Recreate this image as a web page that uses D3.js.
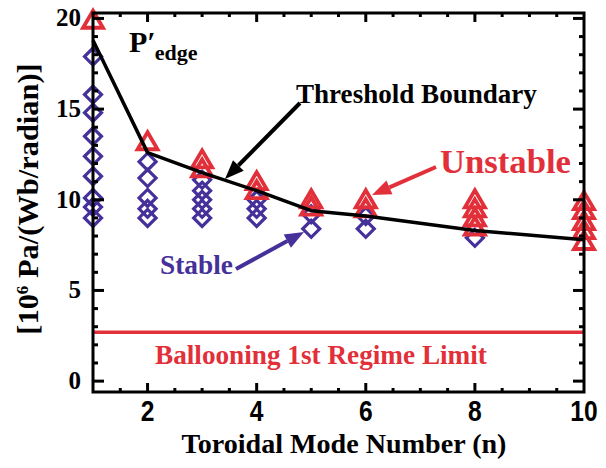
<!DOCTYPE html>
<html>
<head>
<meta charset="utf-8">
<script src="https://cdn.jsdelivr.net/npm/d3@7"></script>
<style>
  body { margin: 0; background: #fff; }
  svg { display: block; }
</style>
</head>
<body>
<svg id="chart" width="606" height="468"></svg>
<script>
// values
const stableN = [1, 1, 1, 1, 1, 1, 1, 1, 1, 2, 2, 2, 2, 2, 3, 3, 3, 3, 3, 4, 4, 4, 5, 5, 6, 6, 8];
const stableP = [17.9, 15.8, 14.8, 13.5, 12.4, 11.3, 10.1, 9.6, 9.0,
  12.1, 11.2, 10.1, 9.5, 9.0,
  11.1, 10.5, 10.0, 9.5, 9.0,
  10.0, 9.5, 9.0,
  9.2, 8.4,
  9.1, 8.4,
  7.9];
const unstableN = [1, 2, 3, 3, 4, 4, 5, 5, 6, 6, 8, 8, 8, 8, 10, 10, 10, 10, 10];
const unstableP = [19.9, 13.2, 12.2, 11.7, 11.0, 10.5, 10.0, 9.6, 10.0, 9.5,
  10.0, 9.5, 9.0, 8.5, 9.9, 9.4, 8.8, 8.3, 7.7];
const boundaryN = [1, 2, 3, 4, 5, 6, 8, 10];
const boundaryP = [18.8, 12.6, 11.5, 10.5, 9.4, 9.1, 8.3, 7.8];
const ballooningLimit = 2.7;
const xTicks = [2, 4, 6, 8, 10];
const yTicks = [0, 5, 10, 15, 20];

const red = "#e2303a";
const purple = "#46309a";
const serif = "'Liberation Serif', 'Times New Roman', serif";

const svg = d3.select("#chart");
const pLeft = 93, pRight = 584, pTop = 13, pBottom = 392;

const x = d3.scaleLinear().domain([1, 10]).range([pLeft, pRight]);
const y = d3.scaleLinear().domain([-0.6, 20.3]).range([pBottom, pTop]);

// shrink or grow a text so it spans a given width
function fit(sel, w) {
  const node = sel.node();
  const fs = parseFloat(sel.attr("font-size"));
  const len = node.getComputedTextLength();
  sel.attr("font-size", (fs * w / len).toFixed(2));
  return sel;
}

// ballooning limit
svg.append("line")
  .attr("x1", pLeft).attr("x2", pRight)
  .attr("y1", y(ballooningLimit)).attr("y2", y(ballooningLimit))
  .attr("stroke", red).attr("stroke-width", 3.5);

// stable points
const diamond = "M0,-8.5L8.5,0L0,8.5L-8.5,0Z";
svg.append("g").selectAll("path")
  .data(stableN.map((n, i) => [n, stableP[i]]))
  .join("path")
  .attr("d", diamond)
  .attr("transform", (d) => `translate(${x(d[0])},${y(d[1])})`)
  .attr("fill", "none")
  .attr("stroke", purple)
  .attr("stroke-width", 3.2);

// unstable points
const triangle = "M0,-9.5L10,7.5L-10,7.5Z";
svg.append("g").selectAll("path")
  .data(unstableN.map((n, i) => [n, unstableP[i]]))
  .join("path")
  .attr("d", triangle)
  .attr("transform", (d) => `translate(${x(d[0])},${y(d[1])})`)
  .attr("fill", "none")
  .attr("stroke", red)
  .attr("stroke-width", 3.8)
  .attr("stroke-linejoin", "miter");

// threshold boundary
svg.append("path")
  .datum(boundaryN.map((n, i) => [n, boundaryP[i]]))
  .attr("d", d3.line().x((d) => x(d[0])).y((d) => y(d[1])))
  .attr("fill", "none")
  .attr("stroke", "#000")
  .attr("stroke-width", 3.5)
  .attr("stroke-linejoin", "round");

// frame and ticks
const frame = svg.append("g");
frame.append("rect")
  .attr("x", pLeft).attr("y", pTop)
  .attr("width", pRight - pLeft).attr("height", pBottom - pTop)
  .attr("fill", "none").attr("stroke", "#000").attr("stroke-width", 3);

const xMinor = d3.range(1.5, 10, 0.5);
xMinor.forEach((v) => {
  const len = v % 2 === 0 ? 9 : 4;
  frame.append("line").attr("x1", x(v)).attr("x2", x(v))
    .attr("y1", pBottom).attr("y2", pBottom - len)
    .attr("stroke", "#000").attr("stroke-width", 3);
  frame.append("line").attr("x1", x(v)).attr("x2", x(v))
    .attr("y1", pTop).attr("y2", pTop + len)
    .attr("stroke", "#000").attr("stroke-width", 3);
});
d3.range(0, 21, 1).forEach((v) => {
  const len = v % 5 === 0 ? 11 : 5;
  frame.append("line").attr("x1", pLeft).attr("x2", pLeft + len)
    .attr("y1", y(v)).attr("y2", y(v))
    .attr("stroke", "#000").attr("stroke-width", 3);
  frame.append("line").attr("x1", pRight).attr("x2", pRight - len)
    .attr("y1", y(v)).attr("y2", y(v))
    .attr("stroke", "#000").attr("stroke-width", 3);
});

// tick labels (narrow bold sans, squeezed)
svg.append("g").selectAll("text")
  .data(xTicks)
  .join("text")
  .attr("transform", (d) => `translate(${x(d)},421) scale(0.82,1)`)
  .attr("text-anchor", "middle")
  .attr("font-family", "'Liberation Sans', Arial, sans-serif")
  .attr("font-weight", "bold")
  .attr("font-size", 30)
  .text((d) => d);

svg.append("g").selectAll("text")
  .data(yTicks)
  .join("text")
  .attr("x", 81)
  .attr("y", (d) => y(d) + 8)
  .attr("text-anchor", "end")
  .attr("font-family", serif)
  .attr("font-weight", "bold")
  .attr("font-size", 25)
  .text((d) => d);

// axis titles
fit(svg.append("text")
  .attr("x", 344).attr("y", 453)
  .attr("text-anchor", "middle")
  .attr("font-family", serif).attr("font-weight", "bold")
  .attr("font-size", 22)
  .text("Toroidal Mode Number (n)"), 325);

const yl = svg.append("text")
  .attr("transform", "translate(38,199) rotate(-90)")
  .attr("text-anchor", "middle")
  .attr("font-family", serif).attr("font-weight", "bold")
  .attr("font-size", 26);
yl.append("tspan").text("[10");
yl.append("tspan").attr("font-size", 17).attr("dy", -10).text("6");
yl.append("tspan").attr("dy", 10).text(" Pa/(Wb/radian)]");
const ylLen = yl.node().getComputedTextLength();
yl.attr("font-size", (26 * 273 / ylLen).toFixed(2));

// P'edge label
const pl = svg.append("text")
  .attr("x", 129).attr("y", 52)
  .attr("font-family", serif).attr("font-weight", "bold")
  .attr("font-size", 30);
pl.append("tspan").text("P\u2032");
pl.append("tspan").attr("font-size", 22).attr("dy", 8).attr("dx", -1).text("edge");

// annotations
function arrow(x1, y1, x2, y2, color) {
  const a = Math.atan2(y2 - y1, x2 - x1);
  const hl = 19, hw = 7.5;
  const bx = x2 - hl * Math.cos(a), by = y2 - hl * Math.sin(a);
  svg.append("line")
    .attr("x1", x1).attr("y1", y1).attr("x2", bx).attr("y2", by)
    .attr("stroke", color).attr("stroke-width", 4);
  const px = -Math.sin(a) * hw, py = Math.cos(a) * hw;
  svg.append("path")
    .attr("d", `M${x2},${y2}L${bx + px},${by + py}L${bx - px},${by - py}Z`)
    .attr("fill", color);
}

fit(svg.append("text")
  .attr("x", 296).attr("y", 103)
  .attr("font-family", serif).attr("font-weight", "bold")
  .attr("font-size", 21).attr("fill", "#000")
  .text("Threshold Boundary"), 241);
arrow(300, 103, 225, 179, "#000");

fit(svg.append("text")
  .attr("x", 440).attr("y", 173)
  .attr("font-family", serif).attr("font-weight", "bold")
  .attr("font-size", 21).attr("fill", red)
  .text("Unstable"), 131);
arrow(436, 167, 372, 195, red);

fit(svg.append("text")
  .attr("x", 160).attr("y", 274)
  .attr("font-family", serif).attr("font-weight", "bold")
  .attr("font-size", 21).attr("fill", purple)
  .text("Stable"), 73);
arrow(236, 269, 304, 232, purple);

fit(svg.append("text")
  .attr("x", 155).attr("y", 364)
  .attr("font-family", serif).attr("font-weight", "bold")
  .attr("font-size", 21).attr("fill", red)
  .text("Ballooning 1st Regime Limit"), 332);
</script>
</body>
</html>
